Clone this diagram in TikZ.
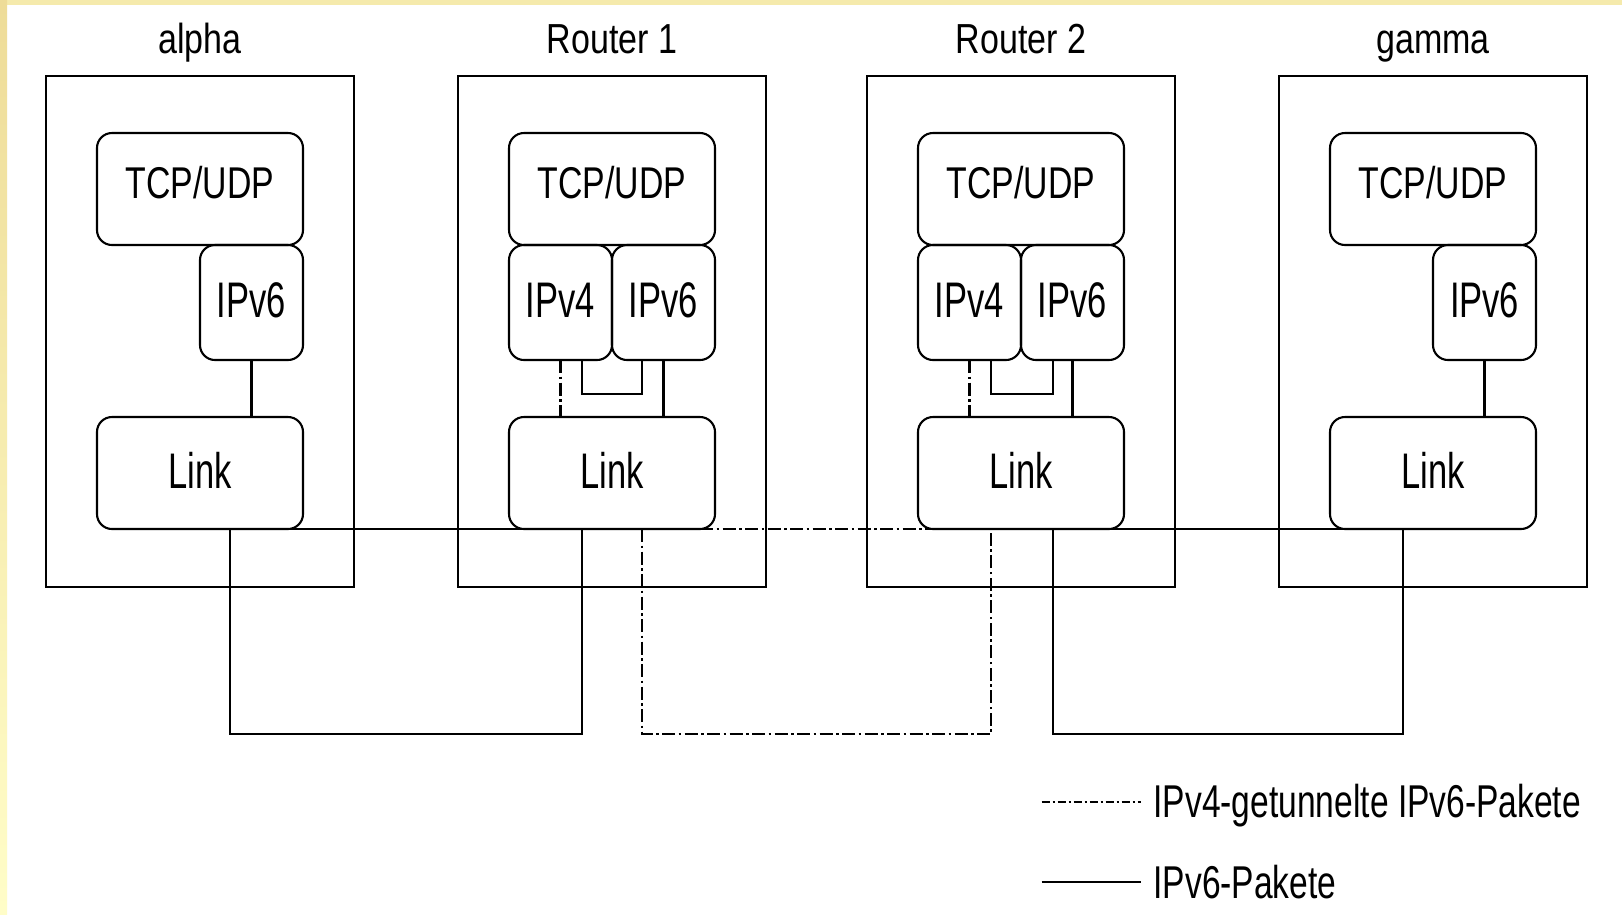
\documentclass[tikz,border=0pt]{standalone}
\usepackage{fontspec}
\setmainfont{Liberation Sans}
\newfontfamily\ftitle[FakeStretch=0.81]{Liberation Sans}
\newfontfamily\ftcp[FakeStretch=0.76]{Liberation Sans}
\newfontfamily\fip[FakeStretch=0.69]{Liberation Sans}
\newfontfamily\flegend[FakeStretch=0.73]{Liberation Sans}
\usetikzlibrary{calc}
\definecolor{bandtop}{RGB}{245,234,172}
\definecolor{bandtan}{RGB}{238,220,152}
\definecolor{bandlight}{RGB}{255,253,200}
\begin{document}
\begin{tikzpicture}[x=1pt,y=-1pt,
  line width=2.1pt,
  every node/.style={inner sep=0pt, outer sep=0pt},
  hostbox/.style={draw, rectangle, minimum width=308pt, minimum height=511pt},
  layerbox/.style={draw, rectangle, rounded corners=15pt, minimum width=206pt, minimum height=112pt},
  halfbox/.style={draw, rectangle, rounded corners=15pt, minimum width=103pt, minimum height=115pt},
  titletext/.style={anchor=base, font=\ftitle\fontsize{42}{46}\selectfont},
  tcptext/.style={anchor=base, font=\ftcp\fontsize{44.5}{48}\selectfont},
  iptext/.style={anchor=base, font=\fip\fontsize{50}{54}\selectfont},
  legendtext/.style={anchor=base west, font=\flegend\fontsize{46}{50}\selectfont},
  tunnel/.style={dash pattern=on 13pt off 3.5pt on 2.5pt off 3.5pt},
  legtunnel/.style={dash pattern=on 8pt off 3pt on 2pt off 3pt}
]
% page and the yellow edge bands
\fill[white] (0,0) rectangle (1622,914);
\useasboundingbox (0,0) rectangle (1622,914);
\fill[bandtop] (0,0) rectangle (1622,5);
\shade[top color=bandtan, bottom color=bandlight, draw=none] (0,0) rectangle (7,914);

% ---- host alpha ----
\node[hostbox] (alpha) at (200,331.5) {};
\node[titletext] (alphaT) at (200,53.3) {alpha};
\node[layerbox] (aTcp) at (200,189) {};
\node[tcptext] (aTcpT) at (200,198.3) {TCP/UDP};
\node[halfbox] (aV6) at (251.5,302.5) {};
\node[iptext] (aV6T) at (251.5,317.3) {IPv6};
\node[layerbox] (aLink) at (200,473) {};
\node[iptext] (aLinkT) at (200,488.3) {Link};

% ---- Router 1 ----
\node[hostbox] (rOne) at (612,331.5) {};
\node[titletext] (rOneT) at (612,53.3) {Router 1};
\node[layerbox] (bTcp) at (612,189) {};
\node[tcptext] (bTcpT) at (612,198.3) {TCP/UDP};
\node[halfbox] (bV4) at (560.5,302.5) {};
\node[iptext] (bV4T) at (560.5,317.3) {IPv4};
\node[halfbox] (bV6) at (663.5,302.5) {};
\node[iptext] (bV6T) at (663.5,317.3) {IPv6};
\node[layerbox] (bLink) at (612,473) {};
\node[iptext] (bLinkT) at (612,488.3) {Link};

% ---- Router 2 ----
\node[hostbox] (rTwo) at (1021,331.5) {};
\node[titletext] (rTwoT) at (1021,53.3) {Router 2};
\node[layerbox] (cTcp) at (1021,189) {};
\node[tcptext] (cTcpT) at (1021,198.3) {TCP/UDP};
\node[halfbox] (cV4) at (969.5,302.5) {};
\node[iptext] (cV4T) at (969.5,317.3) {IPv4};
\node[halfbox] (cV6) at (1072.5,302.5) {};
\node[iptext] (cV6T) at (1072.5,317.3) {IPv6};
\node[layerbox] (cLink) at (1021,473) {};
\node[iptext] (cLinkT) at (1021,488.3) {Link};

% ---- host gamma ----
\node[hostbox] (gamma) at (1433,331.5) {};
\node[titletext] (gammaT) at (1433,53.3) {gamma};
\node[layerbox] (dTcp) at (1433,189) {};
\node[tcptext] (dTcpT) at (1433,198.3) {TCP/UDP};
\node[halfbox] (dV6) at (1484.5,302.5) {};
\node[iptext] (dV6T) at (1484.5,317.3) {IPv6};
\node[layerbox] (dLink) at (1433,473) {};
\node[iptext] (dLinkT) at (1433,488.3) {Link};

% ---- stack connections inside the hosts ----
\draw (aV6.south) -- (aV6.south |- aLink.north);
\draw (dV6.south) -- (dV6.south |- dLink.north);

% ---- stack connections inside the routers ----
\draw[tunnel] (bV4.south) -- (bV4.south |- bLink.north);
\draw (bV6.south) -- (bV6.south |- bLink.north);
\draw ($(bV4.south east)+(-30,0)$) -- ++(0,34.3) -| ($(bV4.south east)+(30,0)$);

\draw[tunnel] (cV4.south) -- (cV4.south |- cLink.north);
\draw (cV6.south) -- (cV6.south |- cLink.north);
\draw ($(cV4.south east)+(-30,0)$) -- ++(0,34.3) -| ($(cV4.south east)+(32,0)$);

% ---- links between the machines (running on along the Link bottoms) ----
\draw ($(aLink.south east)+(-15,0)$) -- ($(bLink.south west)+(15,0)$);
\draw[tunnel] ($(bLink.south east)+(-15,0)$) -- ($(cLink.south west)+(15,0)$);
\draw ($(cLink.south east)+(-15,0)$) -- ($(dLink.south west)+(15,0)$);

\draw ($(aLink.south)+(30,0)$) -- ++(0,205) -| ($(bLink.south)+(-30,0)$);
\draw[tunnel] ($(bLink.south)+(30,0)$) -- ++(0,205) -| ($(cLink.south)+(-30,0)$);
\draw ($(cLink.south)+(32,0)$) -- ++(0,205) -| ($(dLink.south)+(-30,0)$);

% ---- legend ----
\coordinate (legA1) at (1041.7,801.7);
\coordinate (legA2) at (1141,801.7);
\coordinate (legB1) at (1041.7,882.4);
\coordinate (legB2) at (1141,882.4);
\draw[legtunnel] (legA1) -- (legA2);
\draw (legB1) -- (legB2);
\node[legendtext] (legAT) at (1153.5,817.5) {IPv4-getunnelte IPv6-Pakete};
\node[legendtext] (legBT) at (1153.5,898) {IPv6-Pakete};
\end{tikzpicture}
\end{document}
